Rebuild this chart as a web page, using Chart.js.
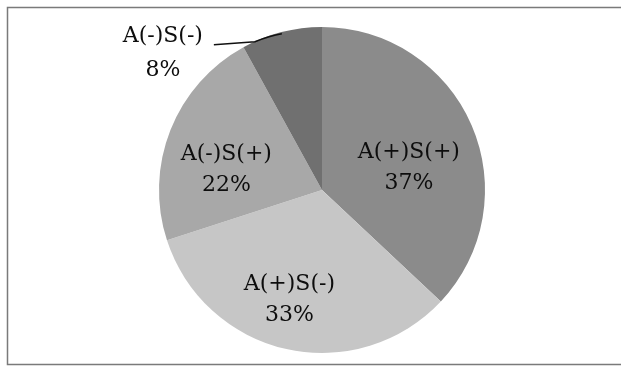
<!DOCTYPE html>
<html>
<head>
<meta charset="utf-8">
<script src="https://cdn.jsdelivr.net/npm/chart.js@4/dist/chart.umd.min.js"></script>
<style>
  html, body { margin: 0; padding: 0; background: #ffffff; }
  #wrap { width: 621px; height: 367px; position: relative; }
</style>
</head>
<body>
<div id="wrap"><canvas id="pie" width="621" height="367"></canvas></div>
<script>
// Group shares (percent), clockwise from 12 o'clock
const categories = ['A(+)S(+)', 'A(+)S(-)', 'A(-)S(+)', 'A(-)S(-)'];
const shares = [37, 33, 22, 8];

// Slice fills
const sliceColors = ['#8b8b8b', '#c6c6c6', '#a8a8a8', '#707070'];

// Label placement per slice: angle shift (deg) from slice middle, radius as fraction of pie radius.
// A null entry means the label sits outside with a leader line.
const labelPlacement = [
  { shift: 9, r: 0.55 },
  { shift: 4, r: 0.70 },
  { shift: -9.5, r: 0.60 },
  null
];

const LABEL_FONT = '22px "DejaVu Serif", "Liberation Serif", serif';

const framePlugin = {
  id: 'frame',
  beforeDraw(chart) {
    const ctx = chart.ctx;
    ctx.save();
    ctx.strokeStyle = '#7a7a7a';
    ctx.lineWidth = 1.5;
    ctx.beginPath();
    ctx.moveTo(630, 7.5);
    ctx.lineTo(7.5, 7.5);
    ctx.lineTo(7.5, 364.5);
    ctx.lineTo(630, 364.5);
    ctx.stroke();
    ctx.restore();
  }
};

const sliceLabels = {
  id: 'sliceLabels',
  afterDatasetsDraw(chart) {
    const ctx = chart.ctx;
    const arcs = chart.getDatasetMeta(0).data;
    const values = chart.data.datasets[0].data;
    ctx.save();
    ctx.font = LABEL_FONT;
    ctx.fillStyle = '#0d0d0d';
    ctx.textAlign = 'center';
    ctx.textBaseline = 'middle';
    arcs.forEach((arc, i) => {
      const p = arc.getProps(['x', 'y', 'startAngle', 'endAngle', 'outerRadius'], true);
      const mid = (p.startAngle + p.endAngle) / 2;
      const name = chart.data.labels[i];
      const pct = values[i] + '%';
      const place = labelPlacement[i];
      if (place) {
        const a = mid + place.shift * Math.PI / 180;
        const cx = p.x + Math.cos(a) * p.outerRadius * place.r;
        const cy = p.y + Math.sin(a) * p.outerRadius * place.r;
        ctx.fillText(name, cx, cy - 15.5);
        ctx.fillText(pct, cx, cy + 16);
      } else {
        // outside label with leader line to the slice edge
        const ex = p.x + Math.cos(mid) * p.outerRadius * 0.99;
        const ey = p.y + Math.sin(mid) * p.outerRadius * 0.99;
        const lx = ex - 119;
        const ly = ey + 20;
        ctx.fillText(name, lx, ly - 17);
        ctx.fillText(pct, lx, ly + 17);
        ctx.strokeStyle = '#111111';
        ctx.lineWidth = 1.6;
        ctx.beginPath();
        ctx.moveTo(lx + 51, ly - 9);
        ctx.lineTo(lx + 92, ly - 12);
        ctx.quadraticCurveTo(ex - 12, ey + 2, ex, ey);
        ctx.stroke();
      }
    });
    ctx.restore();
  }
};

new Chart(document.getElementById('pie'), {
  type: 'pie',
  data: {
    labels: categories,
    datasets: [{
      data: shares,
      backgroundColor: sliceColors,
      borderWidth: 0
    }]
  },
  options: {
    responsive: false,
    animation: false,
    layout: { padding: { left: 159, right: 136, top: 27, bottom: 14 } },
    plugins: {
      legend: { display: false },
      tooltip: { enabled: false }
    }
  },
  plugins: [framePlugin, sliceLabels]
});
</script>
</body>
</html>
